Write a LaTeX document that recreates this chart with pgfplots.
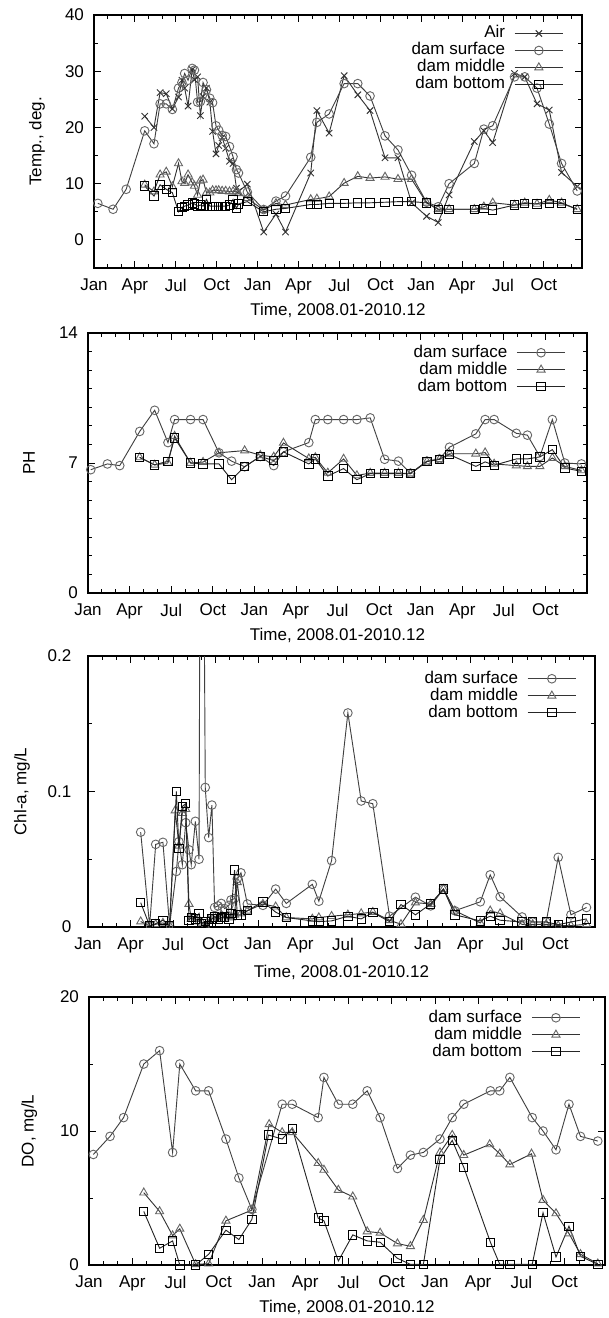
\documentclass[border=0pt]{standalone}
\usepackage{fontspec}
\setmainfont{Liberation Sans}
\usepackage{pgfplots}
\pgfplotsset{compat=1.18}

\pgfplotsset{
  tsplot/.style={
    scale only axis,
    xmin=0, xmax=35.8,
    xtick={0,3,...,33},
    xticklabels={Jan,Apr,Jul,Oct,Jan,Apr,Jul,Oct,Jan,Apr,Jul,Oct},
    minor xtick={1,2,4,5,7,8,10,11,13,14,16,17,19,20,22,23,25,26,28,29,31,32,34,35},
    major tick length=4pt, minor tick length=2.2pt,
    tick align=inside,
    tick style={black, line width=0.5pt},
    axis line style={line width=0.7pt},
    xlabel={Time, 2008.01-2010.12},
    /pgf/number format/assume math mode=true,
    ticklabel style={font=\fontsize{10.2}{12}\selectfont},
    xticklabel style={yshift=-3pt},
    yticklabel style={xshift=-2.5pt},
    label style={font=\fontsize{10.2}{12}\selectfont},
    legend plot pos=right,
    legend cell align=right,
    legend style={draw=none, fill=none, anchor=north east,
      font=\fontsize{10.2}{12}\selectfont,
      nodes={inner sep=0.5pt, text height=7.2pt, text depth=2pt},
      /tikz/every odd column/.append style={column sep=5pt}},
    legend image code/.code={\draw[mark repeat=2,mark phase=2,##1] plot coordinates {(0pt,0pt) (14.5pt,0pt) (29pt,0pt)};},
    every axis plot/.append style={line width=0.55pt},
  },
  air/.style={black!80, mark=x, mark size=2.7pt},
  surf/.style={black!75, mark=o, mark size=2.6pt, mark options={draw=black!60}},
  mid/.style={black!80, mark=triangle, mark size=2.8pt, mark options={draw=black!60}},
  bot/.style={black!85, mark=square, mark size=2.5pt, mark options={draw=black}},
}

\begin{document}
\begin{tikzpicture}
\useasboundingbox (0,0) rectangle (364.8pt,-790.8pt);

% Temperature
\begin{axis}[tsplot,
  at={(56.4pt,-160.8pt)}, anchor=south west,
  width=292.8pt, height=151.8pt,
  ymin=-5, ymax=40, ytick={0,10,20,30,40}, minor y tick num=1,
  ylabel={Temp., deg.},
  ylabel style={at={(axis description cs:-0.117,0.5)}, anchor=center},
  xlabel style={at={(axis description cs:0.5,-0.166)}, anchor=center},
  legend style={at={(0.973,0.975)}},
]
\addplot[air] coordinates {
(3.72,22.0) (4.4,20.0) (4.85,26.2) (5.3,26.0) (5.75,23.3) (6.2,25.4) (6.45,28.4) (6.65,27.0) (6.9,23.8) (7.2,30.3) (7.37,28.5) (7.6,29.0) (7.8,22.1) (8.0,25.5) (8.25,27.0) (8.5,24.5) (8.7,19.3) (8.95,15.3) (9.15,16.8) (9.4,18.2) (9.66,16.3) (9.94,14.0) (10.2,13.6) (10.45,9.2) (10.6,8.6) (11.25,9.9)
(12.45,1.4) (13.35,4.6) (14.05,1.4) (15.9,11.9) (16.35,23.0) (17.25,19.0) (18.35,29.2) (19.35,25.8) (20.25,23.0) (21.35,14.6) (22.3,14.6) (23.3,6.6)
(24.4,4.2) (25.25,3.1) (26.05,8.0) (27.9,17.5) (28.6,19.4) (29.25,17.3) (30.85,29.6) (31.6,29.0) (32.5,24.2) (33.4,23.1) (34.3,12.0) (35.45,9.5)
};
\addlegendentry{Air}
\addplot[surf] coordinates {
(0.28,6.5) (1.4,5.45) (2.36,9.0) (3.72,19.4) (4.4,17.1) (4.85,24.2) (5.3,24.2) (5.75,23.2) (6.2,27.0) (6.45,28.0) (6.65,29.6) (6.9,28.4) (7.2,30.5) (7.37,30.2) (7.6,24.5) (7.8,24.6) (8.0,28.0) (8.25,26.7) (8.5,25.2) (8.7,24.4) (8.95,20.3) (9.15,19.5) (9.4,18.6) (9.66,18.4) (9.94,16.6) (10.2,14.8) (10.45,12.5) (10.6,11.9) (11.25,8.5)
(12.45,5.4) (13.35,6.9) (14.05,7.8) (15.9,14.7) (16.35,20.9) (17.25,22.4) (18.35,27.8) (19.35,27.8) (20.25,25.6) (21.35,18.5) (22.3,16.0) (23.3,11.5)
(24.4,6.7) (25.25,5.9) (26.05,10.0) (27.9,13.6) (28.6,19.7) (29.25,20.3) (30.85,29.0) (31.6,29.0) (32.5,27.0) (33.4,20.6) (34.3,13.6) (35.45,8.7)
};
\addlegendentry{dam surface}
\addplot[mid] coordinates {
(3.72,9.8) (4.4,8.6) (4.85,11.6) (5.3,12.1) (5.75,9.5) (6.2,13.6) (6.45,10.4) (6.65,10.1) (6.9,11.6) (7.2,10.2) (7.37,9.6) (7.6,8.0) (7.8,10.5) (8.0,10.7) (8.25,8.4) (8.5,8.4) (8.7,8.8) (8.95,8.8) (9.15,8.8) (9.4,8.7) (9.66,8.7) (9.94,8.6) (10.2,8.6) (10.45,8.6) (10.6,8.3) (11.25,7.4)
(12.45,5.3) (13.35,6.5) (14.05,6.2) (15.9,7.2) (16.35,7.3) (17.25,7.7) (18.35,10.1) (19.35,11.3) (20.25,11.0) (21.35,11.2) (22.3,10.8) (23.3,10.8)
(24.4,6.6) (25.25,5.45) (26.05,5.45) (27.9,5.45) (28.6,5.9) (29.25,6.6) (30.85,6.2) (31.6,6.6) (32.5,6.4) (33.4,7.1) (34.3,6.6) (35.45,5.45)
};
\addlegendentry{dam middle}
\addplot[bot] coordinates {
(3.72,9.6) (4.4,7.8) (4.85,9.8) (5.3,9.0) (5.75,8.4) (6.2,5.0) (6.45,5.8) (6.65,6.0) (6.9,6.2) (7.2,6.6) (7.37,6.4) (7.6,6.0) (7.8,6.2) (8.0,6.0) (8.25,7.2) (8.5,6.0) (8.7,6.0) (8.95,6.0) (9.15,6.0) (9.4,6.0) (9.66,6.0) (9.94,6.2) (10.2,7.2) (10.45,5.6) (10.6,6.4) (11.25,6.8)
(12.45,5.0) (13.35,5.45) (14.05,5.6) (15.9,6.3) (16.35,6.3) (17.25,6.5) (18.35,6.5) (19.35,6.6) (20.25,6.6) (21.35,6.7) (22.3,6.8) (23.3,6.8)
(24.4,6.6) (25.25,5.45) (26.05,5.45) (27.9,5.45) (28.6,5.6) (29.25,5.3) (30.85,6.2) (31.6,6.5) (32.5,6.4) (33.4,6.5) (34.3,6.5) (35.45,5.45)
};
\addlegendentry{dam bottom}
\end{axis}

% PH
\begin{axis}[tsplot,
  at={(52.8pt,-355.8pt)}, anchor=south west,
  width=299.4pt, height=156pt, xmax=36,
  ymin=0, ymax=14, ytick={0,7,14}, minor y tick num=6,
  ylabel={PH},
  ylabel style={at={(axis description cs:-0.118,0.5)}, anchor=center},
  xlabel style={at={(axis description cs:0.5,-0.1615)}, anchor=center},
  legend style={at={(0.968,0.971)}},
]
\addplot[surf] coordinates {
(0.2,6.64) (1.4,6.95) (2.29,6.86) (3.73,8.7) (4.81,9.84) (5.77,8.1) (6.25,9.34) (7.4,9.34) (8.3,9.34) (9.45,7.55) (10.36,7.1) (11.3,6.8)
(12.43,7.35) (13.4,6.86) (14.1,7.6) (15.93,8.1) (16.4,9.34) (17.3,9.34) (18.44,9.34) (19.4,9.34) (20.36,9.43) (21.4,7.2) (22.4,7.1) (23.27,6.45)
(24.45,7.1) (25.36,7.22) (26.08,7.85) (27.98,8.57) (28.65,9.34) (29.3,9.34) (30.9,8.6) (31.7,8.5) (32.6,7.35) (33.5,9.34) (34.4,7.0) (35.6,6.95)
};
\addlegendentry{dam surface}
\addplot[mid] coordinates {
(3.73,7.3) (4.81,6.9) (5.77,7.0) (6.25,8.45) (7.4,7.0) (8.3,7.05) (9.45,7.55) (11.3,7.67)
(12.43,7.42) (13.4,7.33) (14.1,8.08) (15.93,7.24) (16.4,7.3) (17.3,6.47) (18.44,7.22) (19.4,6.33) (20.36,6.46) (21.4,6.46) (22.4,6.46) (23.27,6.43)
(24.45,7.08) (25.36,7.2) (26.08,7.5) (27.98,7.5) (28.65,7.56) (29.3,6.95) (30.9,6.86) (31.7,6.82) (32.6,6.82) (33.5,7.27) (34.4,6.82) (35.6,6.6)
};
\addlegendentry{dam middle}
\addplot[bot] coordinates {
(3.73,7.3) (4.81,6.9) (5.77,7.1) (6.25,8.35) (7.4,7.0) (8.3,6.95) (9.45,6.95) (10.36,6.1) (11.3,6.8)
(12.43,7.35) (13.4,7.13) (14.1,7.6) (15.93,6.95) (16.4,7.22) (17.3,6.3) (18.44,6.7) (19.4,6.1) (20.36,6.43) (21.4,6.43) (22.4,6.43) (23.27,6.43)
(24.45,7.08) (25.36,7.2) (26.08,7.45) (27.98,6.82) (28.65,7.06) (29.3,6.88) (30.9,7.22) (31.7,7.22) (32.6,7.33) (33.5,7.72) (34.4,6.73) (35.6,6.55)
};
\addlegendentry{dam bottom}
\end{axis}

% Chl-a
\begin{axis}[tsplot,
  at={(52.8pt,-556.2pt)}, anchor=south west,
  width=304.2pt, height=162.6pt,
  ymin=0, ymax=0.2, ytick={0,0.1,0.2}, yticklabels={0,0.1,0.2}, minor y tick num=1,
  yticklabel style={xshift=-4pt},
  clip marker paths=true,
  ylabel={Chl-a, mg/L},
  ylabel style={at={(axis description cs:-0.130,0.5)}, anchor=center},
  xlabel style={at={(axis description cs:0.5,-0.166)}, anchor=center},
  legend style={at={(0.974,0.961)}},
]
\addplot[surf] coordinates {
(3.72,0.070) (4.35,0.001) (4.78,0.061) (5.29,0.0625) (5.76,0.001) (6.24,0.041) (6.42,0.063) (6.66,0.046) (6.9,0.077) (7.13,0.057) (7.29,0.046) (7.58,0.078) (7.84,0.050) (8.0,0.6) (8.28,0.103) (8.52,0.066) (8.75,0.090) (8.94,0.0144) (9.18,0.0156) (9.41,0.0174) (9.65,0.0136) (9.95,0.016) (10.1,0.020) (10.35,0.021) (10.54,0.0355) (10.8,0.040) (11.25,0.017)
(12.35,0.016) (13.25,0.028) (14.0,0.0174) (15.84,0.0315) (16.3,0.019) (17.2,0.049) (18.35,0.158) (19.29,0.093) (20.11,0.091) (21.29,0.008) (23.12,0.022)
(24.2,0.0156) (25.1,0.028) (25.9,0.012) (27.7,0.0186) (28.4,0.0385) (29.1,0.0223) (30.65,0.0074) (31.4,0.0037) (32.35,0.0037) (33.2,0.0514) (34.1,0.009) (35.2,0.0144)
};
\addlegendentry{dam surface}
\addplot[mid] coordinates {
(3.72,0.004) (4.35,0.001) (4.78,0.002) (5.29,0.003) (5.76,0.001) (6.16,0.086) (6.42,0.060) (6.66,0.084) (6.9,0.087) (7.13,0.017) (7.29,0.006) (7.58,0.006) (7.84,0.004) (8.05,0.003) (8.28,0.001) (8.52,0.005) (8.75,0.006) (8.94,0.008) (9.18,0.007) (9.41,0.009) (9.65,0.006) (9.95,0.008) (10.1,0.007) (10.35,0.009) (10.54,0.033) (10.8,0.010) (11.25,0.012)
(12.35,0.017) (13.25,0.015) (14.0,0.007) (15.84,0.006) (16.3,0.007) (17.2,0.008) (18.35,0.009) (19.29,0.010) (20.11,0.011) (21.29,0.005) (22.1,0.002) (23.12,0.018)
(24.2,0.017) (25.1,0.028) (25.9,0.012) (27.7,0.003) (28.4,0.012) (29.1,0.010) (30.65,0.002) (31.4,0.002) (32.35,0.002) (33.2,0.001) (34.1,0.001) (35.2,0.002)
};
\addlegendentry{dam middle}
\addplot[bot] coordinates {
(3.72,0.018) (4.35,0.001) (4.78,0.0025) (5.29,0.005) (5.76,0.001) (6.24,0.100) (6.42,0.058) (6.66,0.089) (6.9,0.091) (7.13,0.005) (7.29,0.007) (7.58,0.006) (7.84,0.010) (8.0,0.0025) (8.28,0.004) (8.52,0.001) (8.75,0.006) (8.94,0.0075) (9.18,0.006) (9.41,0.007) (9.65,0.0075) (9.95,0.006) (10.1,0.010) (10.35,0.042) (10.54,0.009) (10.8,0.009) (11.25,0.012)
(12.35,0.0186) (13.25,0.011) (14.0,0.007) (15.84,0.0045) (16.3,0.004) (17.2,0.0045) (18.35,0.008) (19.29,0.006) (20.11,0.0107) (21.29,0.004) (22.1,0.0166) (23.12,0.009)
(24.2,0.017) (25.1,0.028) (25.9,0.009) (27.7,0.0045) (28.4,0.008) (29.1,0.005) (30.65,0.0037) (31.4,0.0037) (32.35,0.0037) (33.2,0.0017) (34.1,0.0037) (35.2,0.006)
};
\addlegendentry{dam bottom}
\end{axis}

% DO
\begin{axis}[tsplot,
  at={(53.4pt,-759pt)}, anchor=south west,
  width=309.6pt, height=160.8pt,
  ymin=0, ymax=20, ytick={0,10,20}, minor y tick num=1,
  ylabel={DO, mg/L},
  ylabel style={at={(axis description cs:-0.116,0.5)}, anchor=center},
  xlabel style={at={(axis description cs:0.5,-0.157)}, anchor=center},
  legend style={at={(0.963,0.968)}},
]
\addplot[surf] coordinates {
(0.3,8.25) (1.46,9.6) (2.4,11.0) (3.8,15.0) (4.9,16.0) (5.8,8.4) (6.3,15.0) (7.4,13.0) (8.3,13.0) (9.5,9.4) (10.4,6.5) (11.3,4.15)
(13.4,12.0) (14.1,12.0) (15.9,11.0) (16.3,14.0) (17.3,12.0) (18.3,12.0) (19.3,13.0) (20.2,11.0) (21.4,7.2) (22.3,8.2) (23.2,8.4)
(24.35,9.4) (25.2,11.0) (26.0,12.0) (27.85,13.0) (28.5,13.0) (29.2,14.0) (30.75,11.0) (31.5,10.0) (32.4,8.6) (33.3,12.0) (34.1,9.6) (35.3,9.25)
};
\addlegendentry{dam surface}
\addplot[mid] coordinates {
(3.8,5.4) (4.9,4.0) (5.8,2.2) (6.3,2.7) (7.4,0.05) (8.3,0.1) (9.5,3.3) (11.3,4.1)
(12.5,10.5) (13.4,9.9) (14.1,9.9) (15.9,7.6) (16.3,7.1) (17.3,5.6) (18.3,5.1) (19.3,2.5) (20.2,2.4) (21.4,1.6) (22.3,1.4) (23.2,3.35)
(24.35,8.4) (25.2,9.7) (26.0,8.2) (27.8,9.0) (28.5,8.3) (29.2,7.5) (30.7,8.3) (31.5,4.85) (32.4,3.85) (33.3,2.35) (34.1,0.8) (35.3,0.1)
};
\addlegendentry{dam middle}
\addplot[bot] coordinates {
(3.8,4.0) (4.9,1.25) (5.8,1.8) (6.3,0) (7.4,0) (8.3,0.8) (9.5,2.6) (10.4,1.9) (11.3,3.4)
(12.45,9.7) (13.4,9.4) (14.1,10.2) (15.9,3.5) (16.3,3.3) (17.3,0.3) (18.3,2.25) (19.3,1.8) (20.2,1.7) (21.4,0.5) (22.3,0.05) (23.2,0.05)
(24.35,7.9) (25.2,9.3) (26.0,7.3) (27.85,1.7) (28.5,0.05) (29.2,0.05) (30.75,0.05) (31.5,3.9) (32.4,0.6) (33.3,2.9) (34.1,0.65) (35.3,0.05)
};
\addlegendentry{dam bottom}
\end{axis}
\end{tikzpicture}
\end{document}
